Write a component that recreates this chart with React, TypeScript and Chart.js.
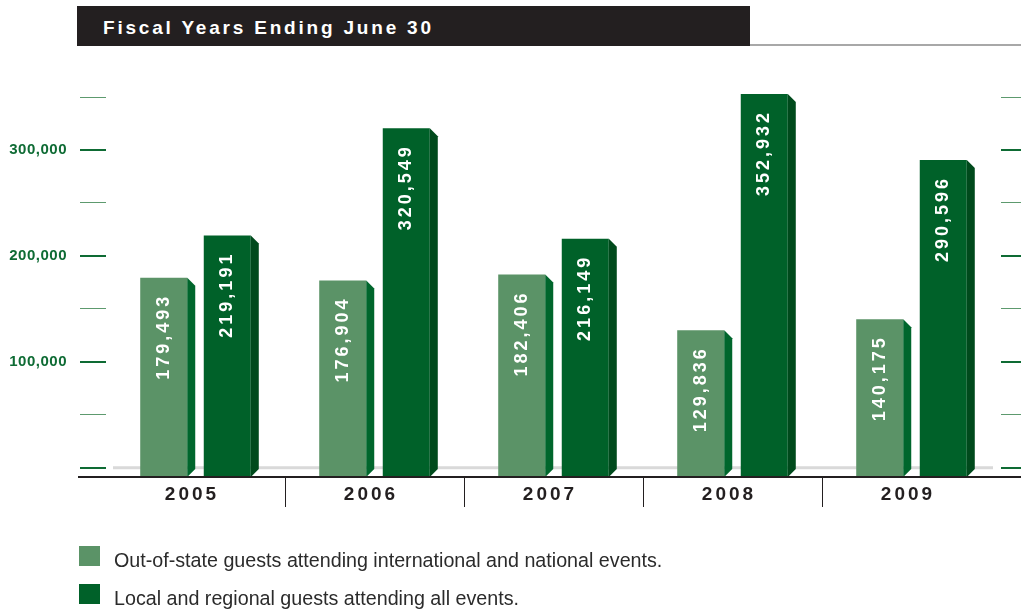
import React, { useEffect, useRef } from 'react';
import { Chart, registerables } from 'chart.js';

Chart.register(...registerables);

// ---- data ----
const titleText = 'Fiscal Years Ending June 30';
const years = ['2005', '2006', '2007', '2008', '2009'];
const outOfStateGuests = [179493, 176904, 182406, 129836, 140175];
const localRegionalGuests = [219191, 320549, 216149, 352932, 290596];
const yTickValues = [0, 50000, 100000, 150000, 200000, 250000, 300000, 350000];
const yLabelValues = [100000, 200000, 300000];
const legendLabels = [
  'Out-of-state guests attending international and national events.',
  'Local and regional guests attending all events.',
];

// ---- styles ----
const LIGHT = '#5b9367';
const DARK = '#006129';
const LIGHT_SIDE = '#00662c';
const DARK_SIDE = '#004a1c';
const TICK_MAJOR = '#0e6b34';
const TICK_MINOR = '#5d9a6e';
const INK = '#231f20';
const FONT = '"Liberation Sans", Arial, sans-serif';
const Y_MIN = -8760;
const Y_MAX = 361400;

const fmt = (v: number) => v.toLocaleString('en-US');

const decorPlugin = {
  id: 'decor',
  beforeDraw(chart: any) {
    chart.ctx.letterSpacing = '0.5px';
  },
  beforeDatasetsDraw(chart: any) {
    const { ctx, chartArea, scales } = chart;
    const y0 = scales.y.getPixelForValue(0);
    ctx.save();
    ctx.strokeStyle = '#d9d9d9';
    ctx.lineWidth = 3;
    ctx.beginPath();
    ctx.moveTo(chartArea.left + 7, y0);
    ctx.lineTo(chartArea.right - 8, y0);
    ctx.stroke();
    ctx.restore();
  },
  afterDatasetsDraw(chart: any) {
    const { ctx, chartArea, scales } = chart;
    const sideColors = [LIGHT_SIDE, DARK_SIDE];
    const depth = 8;
    ctx.save();
    chart.data.datasets.forEach((ds: any, di: number) => {
      const meta = chart.getDatasetMeta(di);
      meta.data.forEach((el: any) => {
        const { x, y, base, width } = el.getProps(['x', 'y', 'base', 'width'], true);
        const r = x + width / 2;
        ctx.fillStyle = sideColors[di];
        ctx.beginPath();
        ctx.moveTo(r, y);
        ctx.lineTo(r + depth, y + depth);
        ctx.lineTo(r + depth, base - depth);
        ctx.lineTo(r, base);
        ctx.closePath();
        ctx.fill();
      });
    });
    // value labels
    ctx.fillStyle = '#ffffff';
    ctx.font = `bold 18px ${FONT}`;
    ctx.letterSpacing = '3px';
    ctx.textAlign = 'right';
    ctx.textBaseline = 'middle';
    chart.data.datasets.forEach((ds: any, di: number) => {
      const meta = chart.getDatasetMeta(di);
      meta.data.forEach((el: any, i: number) => {
        const { x, y } = el.getProps(['x', 'y'], true);
        ctx.save();
        ctx.translate(x, y + 16);
        ctx.rotate(-Math.PI / 2);
        ctx.fillText(fmt(ds.data[i]), 0, 0);
        ctx.restore();
      });
    });
    // axis line
    ctx.strokeStyle = INK;
    ctx.lineWidth = 2;
    ctx.beginPath();
    ctx.moveTo(chartArea.left - 28, chartArea.bottom);
    ctx.lineTo(chart.width, chartArea.bottom);
    ctx.stroke();
    // category labels
    ctx.fillStyle = INK;
    ctx.font = `bold 19px ${FONT}`;
    ctx.letterSpacing = '3px';
    ctx.textAlign = 'center';
    ctx.textBaseline = 'alphabetic';
    years.forEach((yr, i) => {
      const px = scales.x.getPixelForValue(i);
      ctx.fillText(yr, px - 3.5, chartArea.bottom + 23);
    });
    ctx.restore();
  },
};

const tickColor = (ctx: any) =>
  ctx.tick && ctx.tick.value % 100000 === 0 ? TICK_MAJOR : TICK_MINOR;
const tickWidth = (ctx: any) => (ctx.tick && ctx.tick.value % 100000 === 0 ? 2 : 1);
const setTicks = (axis: any) => {
  axis.ticks = yTickValues.map((v) => ({ value: v }));
};

export default function App() {
  const canvasRef = useRef<HTMLCanvasElement | null>(null);

  useEffect(() => {
    const canvas = canvasRef.current;
    if (!canvas) return;
    const chart = new Chart(canvas, {
      type: 'bar',
      data: {
        labels: years,
        datasets: [
          {
            label: legendLabels[0],
            data: outOfStateGuests,
            backgroundColor: LIGHT,
            borderWidth: 0,
            base: Y_MIN,
            yAxisID: 'y',
          } as any,
          {
            label: legendLabels[1],
            data: localRegionalGuests,
            backgroundColor: DARK,
            borderWidth: 0,
            base: Y_MIN,
            yAxisID: 'y',
          } as any,
        ],
      },
      options: {
        responsive: false,
        animation: false,
        devicePixelRatio: 1,
        layout: { padding: { top: 85, left: 0, right: 0, bottom: 0 } },
        datasets: { bar: { categoryPercentage: 0.71, barPercentage: 0.74 } },
        plugins: { legend: { display: false }, tooltip: { enabled: false }, title: { display: false } },
        scales: {
          x: {
            type: 'category',
            offset: true,
            border: { display: false },
            grid: {
              offset: true,
              drawOnChartArea: false,
              drawTicks: true,
              tickLength: 30,
              color: (c: any) =>
                c.type !== 'tick' || c.index === 0 || c.index >= years.length ? 'rgba(0,0,0,0)' : INK,
              lineWidth: 1,
            },
            ticks: { display: false },
            afterFit: (s: any) => {
              s.height = 137;
            },
          },
          y: {
            type: 'linear',
            position: 'left',
            min: Y_MIN,
            max: Y_MAX,
            afterBuildTicks: setTicks,
            border: { display: false },
            grid: {
              drawOnChartArea: false,
              drawTicks: true,
              tickLength: 26,
              color: tickColor,
              tickColor: tickColor,
              lineWidth: tickWidth,
              tickWidth: tickWidth,
            },
            ticks: {
              padding: 13,
              color: TICK_MAJOR,
              font: { family: FONT, size: 15, weight: 'bold' },
              callback: (v: any) => (yLabelValues.includes(Number(v)) ? fmt(Number(v)) : ''),
            },
            afterFit: (s: any) => {
              s.width = 106;
            },
          },
          y2: {
            type: 'linear',
            position: 'right',
            min: Y_MIN,
            max: Y_MAX,
            afterBuildTicks: setTicks,
            border: { display: false },
            grid: {
              drawOnChartArea: false,
              drawTicks: true,
              tickLength: 20,
              color: tickColor,
              tickColor: tickColor,
              lineWidth: tickWidth,
              tickWidth: tickWidth,
            },
            ticks: { display: false },
            afterFit: (s: any) => {
              s.width = 20;
            },
          },
        },
      } as any,
      plugins: [decorPlugin],
    });
    return () => chart.destroy();
  }, []);

  const legendColors = [LIGHT, DARK];
  const legendTops = [546, 584];

  return (
    <div
      style={{
        position: 'absolute',
        left: 0,
        top: 0,
        width: 1021,
        height: 614,
        background: '#ffffff',
        overflow: 'hidden',
      }}
    >
      <canvas
        ref={canvasRef}
        width={1021}
        height={614}
        style={{ position: 'absolute', left: 0, top: 0, width: 1021, height: 614 }}
      />
      <div
        style={{
          position: 'absolute',
          left: 77,
          top: 6,
          width: 673,
          height: 40,
          background: INK,
        }}
      >
        <div
          style={{
            position: 'absolute',
            left: 26,
            top: 10.7,
            lineHeight: '22px',
            font: `bold 19px ${FONT}`,
            letterSpacing: '2.8px',
            color: '#ffffff',
            whiteSpace: 'nowrap',
          }}
        >
          {titleText}
        </div>
      </div>
      <div
        style={{ position: 'absolute', left: 750, top: 44, width: 271, height: 2, background: '#a8a8a8' }}
      />
      {legendLabels.map((t, i) => (
        <React.Fragment key={t}>
          <div
            style={{
              position: 'absolute',
              left: 79,
              top: legendTops[i],
              width: 21,
              height: 20,
              background: legendColors[i],
            }}
          />
          <div
            style={{
              position: 'absolute',
              left: 114,
              top: legendTops[i] + 3.2,
              lineHeight: '20px',
              font: `19.7px ${FONT}`,
              color: '#2b2b2b',
              whiteSpace: 'nowrap',
            }}
          >
            {t}
          </div>
        </React.Fragment>
      ))}
    </div>
  );
}
